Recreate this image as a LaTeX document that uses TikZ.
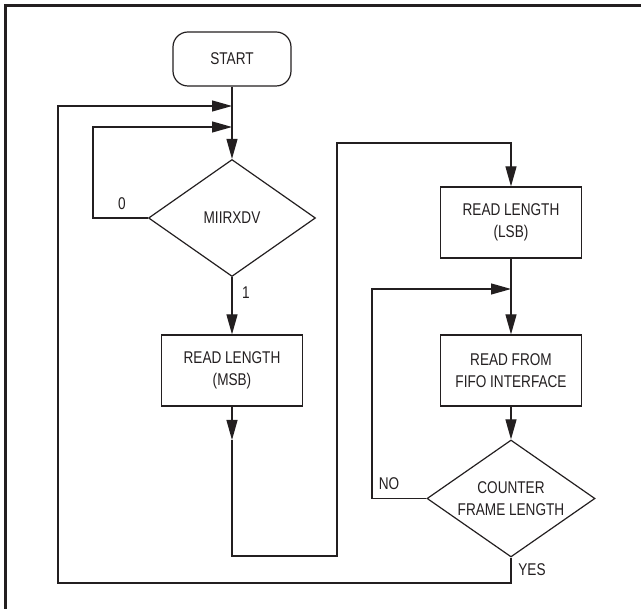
\documentclass[tikz,border=0pt]{standalone}
\usepackage{fontspec}
\setmainfont{Liberation Sans}[FakeStretch=0.8]
\usetikzlibrary{shapes.geometric,arrows.meta}
\definecolor{ink}{RGB}{35,31,32}
\begin{document}
\begin{tikzpicture}[x=1pt,y=-1pt,
  every node/.style={text=ink,font=\fontsize{17}{22}\selectfont},
  line/.style={draw=ink,line width=1.2pt},
  arr/.style={line,-{Triangle[length=20pt,width=11pt]}},
  boxnode/.style={draw=ink,line width=1.2pt,minimum width=141pt,minimum height=71pt,inner sep=0pt,align=center},
  termnode/.style={draw=ink,line width=1.2pt,rounded corners=15pt,minimum width=118pt,minimum height=54pt,inner sep=0pt},
  decnode/.style={draw=ink,line width=1.2pt,diamond,aspect=1.43,minimum width=167pt,minimum height=117pt,inner sep=0pt,align=center},
  lbl/.style={inner sep=0pt}]
\useasboundingbox (0,0) rectangle (641,609);
% frame (top and left only)
\draw[draw=ink,line width=2.2pt] (5.5,609) -- (5.5,5.5) -- (641,5.5);

\node[termnode] (start) at (232,59) {START};
\node[decnode] (d1) at (232,218) {MIIRXDV};
\node[boxnode] (msb) at (232,370.5) {READ LENGTH\\(MSB)};
\node[boxnode] (lsb) at (511,222.5) {READ LENGTH\\(LSB)};
\node[boxnode] (fifo) at (511,370.5) {READ FROM\\FIFO INTERFACE};
\node[decnode,minimum width=168pt] (d2) at (511,498.5) {COUNTER\\FRAME LENGTH};

\node[lbl] (l0) at (122,204) {0};
\node[lbl] (l1) at (246,293) {1};
\node[lbl] (lno) at (389,484) {NO};
\node[lbl] (lyes) at (532,570) {YES};

\coordinate (j1) at (232,106);
\coordinate (j2) at (232,127);
\coordinate (c0) at (93,127);
\coordinate (c1) at (58,106);
\coordinate (m1) at (232,440);
\coordinate (m2) at (232,556);
\coordinate (r1) at (337,143);
\coordinate (n1) at (372,289);
\coordinate (j3) at (511,289);
\coordinate (y1) at (511,583);

\draw[arr] (start) -- (d1);
\draw[arr] (d1.west) -| (c0) -- (j2);
\draw[arr] (d1) -- (msb);
\draw[arr] (msb) -- (m1);
\draw[arr] (m1) -- (m2) -| (r1) -| (lsb.north);
\draw[arr] (lsb) -- (fifo);
\draw[arr] (fifo) -- (d2);
\draw[arr] (d2.west) -| (n1) -- (j3);
\draw[arr] (d2.south) -- (y1) -| (c1) -- (j1);
\end{tikzpicture}
\end{document}
